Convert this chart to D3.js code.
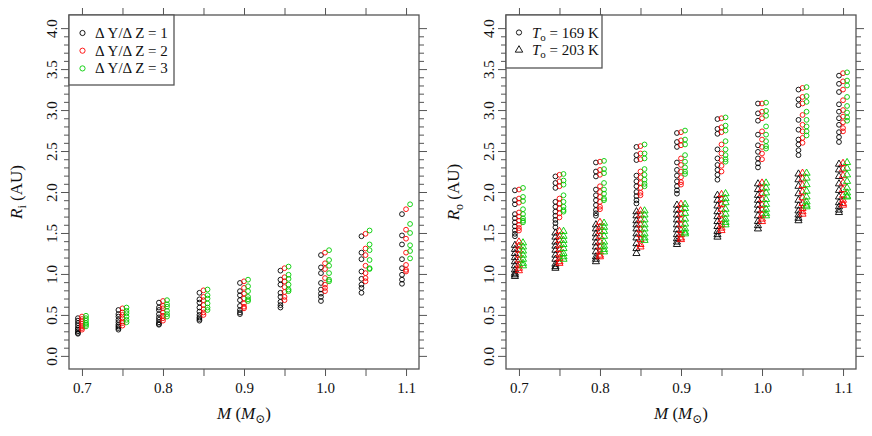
<!DOCTYPE html>
<html>
<head>
<meta charset="utf-8">
<script src="https://cdn.jsdelivr.net/npm/d3@7"></script>
<style>
  body { margin: 0; background: #fff; }
  svg text { font-family: "Liberation Serif", "DejaVu Serif", serif; }
</style>
</head>
<body>
<div id="chart"></div>
<script>
const masses = [0.7, 0.75, 0.8, 0.85, 0.9, 0.95, 1.0, 1.05, 1.1];

// inner radius R_i, one list per mass, for dY/dZ = 1, 2, 3
const riDY1 = [
    [0.46, 0.43, 0.40, 0.37, 0.34, 0.32, 0.30, 0.28, 0.27],
    [0.56, 0.51, 0.48, 0.44, 0.41, 0.38, 0.36, 0.34, 0.32],
    [0.65, 0.59, 0.56, 0.51, 0.47, 0.44, 0.41, 0.39, 0.38],
    [0.77, 0.69, 0.65, 0.59, 0.54, 0.50, 0.47, 0.45, 0.43],
    [0.89, 0.79, 0.74, 0.68, 0.61, 0.56, 0.53, 0.51],
    [1.04, 0.93, 0.87, 0.77, 0.72, 0.66, 0.62, 0.59],
    [1.23, 1.08, 1.01, 0.89, 0.81, 0.76, 0.72, 0.67],
    [1.46, 1.26, 1.18, 1.03, 0.94, 0.87, 0.83, 0.77],
    [1.73, 1.47, 1.36, 1.18, 1.07, 0.99, 0.93, 0.88]
];
const riDY2 = [
    [0.48, 0.45, 0.42, 0.39, 0.36, 0.34, 0.32],
    [0.58, 0.53, 0.50, 0.46, 0.42, 0.40, 0.37],
    [0.67, 0.61, 0.58, 0.53, 0.49, 0.46, 0.43],
    [0.80, 0.72, 0.68, 0.62, 0.57, 0.53, 0.50],
    [0.91, 0.83, 0.76, 0.70, 0.64, 0.60, 0.58],
    [1.07, 0.96, 0.91, 0.84, 0.78, 0.72, 0.68],
    [1.26, 1.13, 1.06, 0.95, 0.87, 0.83, 0.79],
    [1.49, 1.31, 1.23, 1.10, 1.01, 0.95, 0.91],
    [1.79, 1.54, 1.43, 1.26, 1.11, 1.05, 1.03]
];
const riDY3 = [
    [0.49, 0.46, 0.43, 0.40, 0.38, 0.36],
    [0.59, 0.55, 0.52, 0.48, 0.44, 0.41],
    [0.68, 0.63, 0.60, 0.55, 0.51, 0.48],
    [0.81, 0.74, 0.70, 0.64, 0.59, 0.56],
    [0.93, 0.85, 0.79, 0.72, 0.69, 0.67],
    [1.09, 0.99, 0.94, 0.87, 0.81, 0.79],
    [1.29, 1.17, 1.10, 1.01, 0.93, 0.91],
    [1.53, 1.36, 1.29, 1.17, 1.07, 1.06],
    [1.85, 1.61, 1.50, 1.35, 1.28, 1.19]
];

// outer radius R_o for T_o = 169 K (circles)
const ro169DY1 = [
    [2.02, 1.90, 1.85, 1.73, 1.68, 1.63, 1.58, 1.53, 1.49, 1.46],
    [2.19, 2.11, 2.05, 1.88, 1.82, 1.76, 1.71, 1.66, 1.62, 1.57],
    [2.36, 2.25, 2.19, 2.03, 1.96, 1.90, 1.84, 1.78, 1.74, 1.71],
    [2.55, 2.45, 2.39, 2.20, 2.13, 2.07, 2.00, 1.95, 1.90, 1.86],
    [2.72, 2.61, 2.55, 2.36, 2.27, 2.20, 2.13, 2.07, 2.02, 1.98],
    [2.89, 2.77, 2.71, 2.52, 2.41, 2.33, 2.27, 2.21, 2.15],
    [3.08, 2.96, 2.87, 2.70, 2.57, 2.49, 2.41, 2.35, 2.30],
    [3.25, 3.13, 3.06, 2.88, 2.76, 2.64, 2.58, 2.51, 2.45],
    [3.42, 3.32, 3.22, 3.07, 2.98, 2.90, 2.82, 2.73, 2.67, 2.61]
];
const ro169DY2 = [
    [2.03, 1.92, 1.87, 1.75, 1.70, 1.65, 1.60, 1.56, 1.53],
    [2.21, 2.13, 2.07, 1.92, 1.86, 1.80, 1.74, 1.69],
    [2.37, 2.27, 2.21, 2.07, 2.00, 1.94, 1.88, 1.82, 1.79],
    [2.56, 2.47, 2.40, 2.25, 2.18, 2.11, 2.05, 1.99, 1.96],
    [2.73, 2.63, 2.57, 2.41, 2.33, 2.25, 2.18, 2.12, 2.09],
    [2.90, 2.79, 2.73, 2.58, 2.47, 2.39, 2.32, 2.25],
    [3.08, 2.98, 2.90, 2.74, 2.64, 2.55, 2.47, 2.40],
    [3.27, 3.16, 3.08, 2.94, 2.82, 2.74, 2.66, 2.60],
    [3.45, 3.35, 3.25, 3.12, 3.00, 2.92, 2.85, 2.78, 2.74]
];
const ro169DY3 = [
    [2.05, 1.94, 1.89, 1.79, 1.73, 1.68, 1.65, 1.63],
    [2.22, 2.14, 2.09, 1.96, 1.88, 1.82, 1.78, 1.76],
    [2.38, 2.28, 2.23, 2.11, 2.03, 1.98, 1.92, 1.90],
    [2.58, 2.47, 2.41, 2.28, 2.21, 2.15, 2.10, 2.07],
    [2.75, 2.64, 2.58, 2.45, 2.37, 2.30, 2.25, 2.22],
    [2.91, 2.81, 2.75, 2.62, 2.52, 2.45, 2.40, 2.37],
    [3.09, 2.99, 2.93, 2.80, 2.70, 2.62, 2.56, 2.53],
    [3.28, 3.17, 3.10, 2.98, 2.88, 2.80, 2.74, 2.69],
    [3.46, 3.36, 3.30, 3.16, 3.05, 2.97, 2.91, 2.87]
];

// outer radius R_o for T_o = 203 K (triangles)
const ro203DY1 = [
    [1.35, 1.30, 1.25, 1.20, 1.15, 1.10, 1.05, 1.01, 0.99, 0.97],
    [1.50, 1.45, 1.39, 1.34, 1.29, 1.23, 1.18, 1.12, 1.09, 1.07],
    [1.60, 1.55, 1.49, 1.44, 1.38, 1.33, 1.27, 1.21, 1.18, 1.15],
    [1.76, 1.71, 1.65, 1.60, 1.55, 1.49, 1.44, 1.37, 1.31, 1.25],
    [1.84, 1.78, 1.72, 1.66, 1.60, 1.54, 1.48, 1.43, 1.39, 1.36],
    [1.96, 1.90, 1.83, 1.76, 1.70, 1.64, 1.58, 1.52, 1.48, 1.45],
    [2.10, 2.03, 1.96, 1.90, 1.84, 1.78, 1.71, 1.64, 1.59, 1.55],
    [2.22, 2.15, 2.07, 1.98, 1.90, 1.83, 1.77, 1.72, 1.68, 1.65],
    [2.34, 2.27, 2.19, 2.10, 2.02, 1.94, 1.87, 1.82, 1.78, 1.75]
];
const ro203DY2 = [
    [1.39, 1.34, 1.29, 1.23, 1.17, 1.11, 1.07, 1.04],
    [1.52, 1.46, 1.41, 1.35, 1.30, 1.24, 1.19, 1.15, 1.13],
    [1.63, 1.57, 1.52, 1.46, 1.39, 1.33, 1.27, 1.23, 1.21],
    [1.77, 1.72, 1.66, 1.60, 1.54, 1.48, 1.42, 1.36, 1.33],
    [1.85, 1.79, 1.73, 1.66, 1.60, 1.53, 1.48, 1.44, 1.42],
    [1.97, 1.91, 1.85, 1.79, 1.72, 1.66, 1.60, 1.56, 1.53],
    [2.11, 2.04, 1.98, 1.91, 1.84, 1.78, 1.72, 1.67, 1.64],
    [2.23, 2.16, 2.08, 2.00, 1.93, 1.86, 1.80, 1.76, 1.73],
    [2.35, 2.28, 2.20, 2.11, 2.03, 1.96, 1.90, 1.86, 1.84]
];
const ro203DY3 = [
    [1.38, 1.33, 1.28, 1.23, 1.18, 1.13, 1.10],
    [1.52, 1.46, 1.41, 1.36, 1.31, 1.25, 1.21, 1.18],
    [1.62, 1.57, 1.52, 1.46, 1.39, 1.34, 1.30, 1.27],
    [1.77, 1.72, 1.66, 1.60, 1.55, 1.49, 1.44, 1.41],
    [1.85, 1.80, 1.74, 1.67, 1.61, 1.55, 1.51, 1.49],
    [1.98, 1.92, 1.87, 1.79, 1.73, 1.67, 1.63, 1.60],
    [2.11, 2.05, 1.99, 1.91, 1.85, 1.79, 1.74, 1.71],
    [2.23, 2.17, 2.09, 2.01, 1.94, 1.88, 1.84, 1.82],
    [2.36, 2.29, 2.21, 2.13, 2.05, 1.99, 1.95, 1.94]
];

const seriesColors = ['#000000', '#ff0000', '#00cd00'];
const seriesOffsets = [-0.005, 0, 0.005];
const xLabelTicks = [0.7, 0.8, 0.9, 1.0, 1.1];
const yTicks = d3.range(0, 41).map(d => d / 10);

const width = 872;
const height = 436;
const plotTop = 15;
const plotBottom = 369;
const boxW = 350;
const axisColor = '#555';

const svg = d3.select('#chart')
    .append('svg')
    .attr('width', width)
    .attr('height', height);

// flatten per-mass lists into points
function toPoints(lists, s) {
    return lists.flatMap((vals, i) => vals.map(v => ({ m: masses[i] + seriesOffsets[s], v: v, s: s })));
}

function drawPanel(left, yName) {
    const x = d3.scaleLinear().domain([0.684, 1.116]).range([left, left + boxW]);
    const y = d3.scaleLinear().domain([-0.16, 4.16]).range([plotBottom, plotTop]);
    const g = svg.append('g');

    const isLabel = d => xLabelTicks.some(t => Math.abs(t - d) < 1e-6);
    const isHalf = d => Math.abs(d * 2 - Math.round(d * 2)) < 1e-6;

    g.append('g')
        .attr('transform', 'translate(0,' + plotBottom + ')')
        .call(d3.axisBottom(x).tickValues(masses).tickSize(7).tickPadding(6)
            .tickFormat(d => isLabel(d) ? d3.format('.1f')(d) : ''));
    g.append('g')
        .attr('transform', 'translate(0,' + plotTop + ')')
        .call(d3.axisTop(x).tickValues(masses).tickSize(7).tickFormat(''));

    const yl = g.append('g')
        .attr('transform', 'translate(' + left + ',0)')
        .call(d3.axisLeft(y).tickValues(yTicks).tickSize(5)
            .tickFormat(d => isHalf(d) ? d3.format('.1f')(d) : ''));
    yl.selectAll('.tick line').attr('x2', d => isHalf(d) ? -8 : -5);
    // rotated labels, like R's default las = 0
    yl.selectAll('.tick text')
        .attr('x', null).attr('dy', null)
        .attr('text-anchor', 'middle')
        .attr('transform', 'translate(-12,0) rotate(-90)');

    const yr = g.append('g')
        .attr('transform', 'translate(' + (left + boxW) + ',0)')
        .call(d3.axisRight(y).tickValues(yTicks).tickSize(5).tickFormat(''));
    yr.selectAll('.tick line').attr('x2', d => isHalf(d) ? 8 : 5);

    g.selectAll('.domain').remove();
    g.selectAll('.tick line').attr('stroke', axisColor).attr('stroke-width', 1);
    g.selectAll('.tick text').attr('fill', '#111').attr('font-size', 15)
        .attr('font-family', '"Liberation Serif", serif');

    g.append('rect')
        .attr('x', left).attr('y', plotTop)
        .attr('width', boxW).attr('height', plotBottom - plotTop)
        .attr('fill', 'none').attr('stroke', axisColor).attr('stroke-width', 1.3);

    // x title
    const xt = g.append('text')
        .attr('x', left + boxW / 2).attr('y', 419)
        .attr('text-anchor', 'middle').attr('font-size', 17).attr('fill', '#111');
    xt.append('tspan').attr('font-style', 'italic').text('M');
    xt.append('tspan').text(' (');
    xt.append('tspan').attr('font-style', 'italic').text('M');
    xt.append('tspan').attr('font-size', 12).attr('dy', 4).text('⊙');
    xt.append('tspan').attr('dy', -4).text(')');

    // y title
    const yt = g.append('text')
        .attr('transform', 'translate(' + (left - 47) + ',' + ((plotTop + plotBottom) / 2) + ') rotate(-90)')
        .attr('text-anchor', 'middle').attr('font-size', 17).attr('fill', '#111');
    yt.append('tspan').attr('font-style', 'italic').text('R');
    yt.append('tspan').attr('font-size', 12).attr('dy', 4).text(yName);
    yt.append('tspan').attr('dy', -4).text(' (AU)');

    return { x, y, g };
}

function drawCircles(p, pts) {
    p.g.append('g')
        .selectAll('circle')
        .data(pts)
        .enter()
        .append('circle')
        .attr('cx', d => p.x(d.m))
        .attr('cy', d => p.y(d.v))
        .attr('r', 2.4)
        .attr('fill', 'none')
        .attr('stroke', d => seriesColors[d.s])
        .attr('stroke-width', 0.9);
}

function drawTriangles(p, pts) {
    const tri = d3.symbol().type(d3.symbolTriangle).size(22);
    p.g.append('g')
        .selectAll('path')
        .data(pts)
        .enter()
        .append('path')
        .attr('d', tri)
        .attr('transform', d => 'translate(' + p.x(d.m) + ',' + p.y(d.v) + ')')
        .attr('fill', 'none')
        .attr('stroke', d => seriesColors[d.s])
        .attr('stroke-width', 0.9);
}

const leftPanel = drawPanel(69, 'i');
const rightPanel = drawPanel(506, 'o');

[riDY1, riDY2, riDY3].forEach((lists, s) => drawCircles(leftPanel, toPoints(lists, s)));
[ro169DY1, ro169DY2, ro169DY3].forEach((lists, s) => drawCircles(rightPanel, toPoints(lists, s)));
[ro203DY1, ro203DY2, ro203DY3].forEach((lists, s) => drawTriangles(rightPanel, toPoints(lists, s)));

// legend, left panel
const legL = svg.append('g');
legL.append('rect')
    .attr('x', 69).attr('y', 15).attr('width', 105).attr('height', 70)
    .attr('fill', '#fff').attr('stroke', axisColor).attr('stroke-width', 1.3);
['1', '2', '3'].forEach((lab, i) => {
    legL.append('circle')
        .attr('cx', 82.5).attr('cy', 33 + i * 17.7).attr('r', 2.6)
        .attr('fill', 'none').attr('stroke', seriesColors[i]).attr('stroke-width', 0.9);
    legL.append('text')
        .attr('x', 95).attr('y', 38 + i * 17.7)
        .attr('font-size', 15).attr('fill', '#111')
        .text('Δ Y/Δ Z = ' + lab);
});

// legend, right panel
const legR = svg.append('g');
legR.append('rect')
    .attr('x', 506).attr('y', 15).attr('width', 96).attr('height', 53)
    .attr('fill', '#fff').attr('stroke', axisColor).attr('stroke-width', 1.3);
legR.append('circle')
    .attr('cx', 519).attr('cy', 32.5).attr('r', 2.6)
    .attr('fill', 'none').attr('stroke', '#000').attr('stroke-width', 0.9);
legR.append('path')
    .attr('d', d3.symbol().type(d3.symbolTriangle).size(24))
    .attr('transform', 'translate(519,50)')
    .attr('fill', 'none').attr('stroke', '#000').attr('stroke-width', 0.9);
['169', '203'].forEach((t, i) => {
    const tx = legR.append('text')
        .attr('x', 532).attr('y', 37.5 + i * 17.5)
        .attr('font-size', 15).attr('fill', '#111');
    tx.append('tspan').attr('font-style', 'italic').text('T');
    tx.append('tspan').attr('font-size', 11).attr('dy', 3).text('o');
    tx.append('tspan').attr('dy', -3).text(' = ' + t + ' K');
});
</script>
</body>
</html>
